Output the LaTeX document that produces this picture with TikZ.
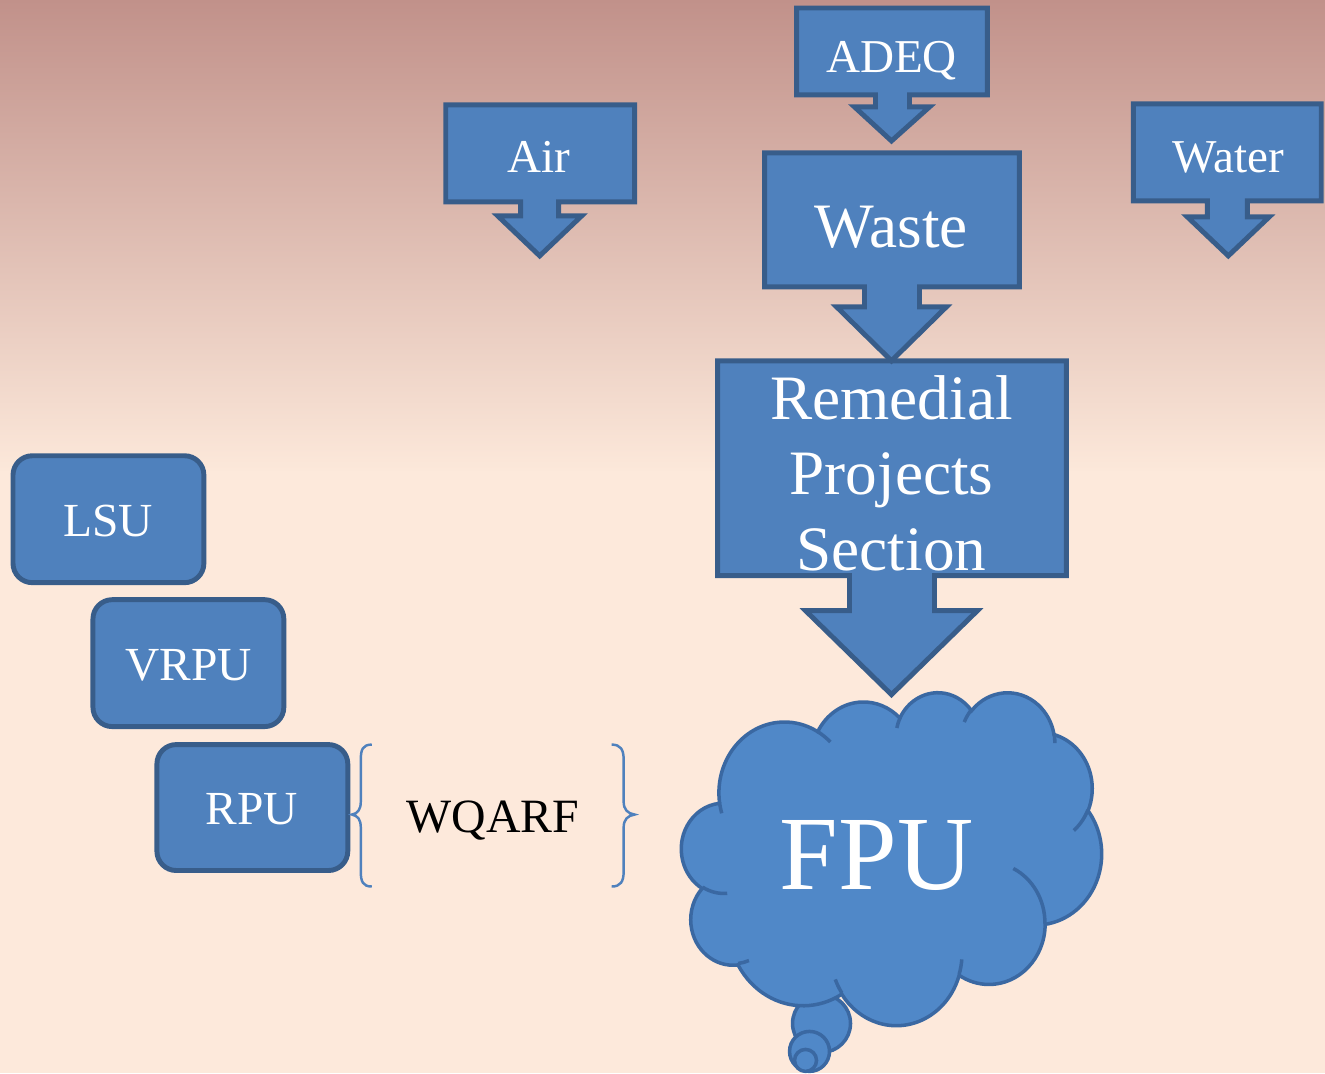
\documentclass[tikz,border=0pt]{standalone}
\usepackage{fontspec}
\setmainfont{Liberation Serif}
\definecolor{boxfill}{HTML}{4F81BD}
\definecolor{boxline}{HTML}{385D8A}
\definecolor{cloudfill}{HTML}{5088C8}
\definecolor{cloudline}{HTML}{3A68A2}
\definecolor{bracecol}{HTML}{4F81BD}
\definecolor{bgtop}{HTML}{C1918A}
\definecolor{bgbot}{HTML}{FCE8DA}
\definecolor{bglow}{HTML}{FDE9DB}
\tikzset{
  callout/.style={fill=boxfill, draw=boxline, line width=1.4pt, line join=miter},
  roundbox/.style={fill=boxfill, draw=boxline, line width=1.4pt, rounded corners=5.5pt},
  cloudshape/.style={fill=cloudfill, draw=cloudline, line width=1pt},
  cloudedge/.style={draw=cloudline, line width=1pt},
  bracestyle/.style={draw=bracecol, line width=0.7pt},
  wlabel/.style={text=white, anchor=base, inner sep=0pt},
  smalltxt/.style={font=\fontsize{13.4}{16}\selectfont},
}
\begin{document}
\begin{tikzpicture}[x=0.01cm, y=-0.01cm]
% background
\useasboundingbox (0cm,-10.73cm) rectangle (13.25cm,0cm);
\fill[bglow] (0cm,-10.73cm) rectangle (13.25cm,-4.6cm);
\shade[top color=bgtop, bottom color=bgbot] (0cm,-4.7cm) rectangle (13.25cm,0cm);

% callout arrows
\path[callout] (718,361) -- (1067,361) -- (1067,576) -- (935,576) -- (935,611) -- (978,611) -- (892,695) -- (806,611) -- (850,611) -- (850,576) -- (718,576) -- cycle;
\path[callout] (765,153) -- (1020,153) -- (1020,287) -- (920,287) -- (920,307) -- (947,307) -- (892,361) -- (837,307) -- (865,307) -- (865,287) -- (765,287) -- cycle;
\path[callout] (797,8) -- (988,8) -- (988,95) -- (910,95) -- (910,107) -- (930,107) -- (892,141) -- (855,107) -- (876,107) -- (876,95) -- (797,95) -- cycle;
\path[callout] (446,105) -- (635,105) -- (635,202) -- (559,202) -- (559,216) -- (582,216) -- (540,256) -- (498,216) -- (521,216) -- (521,202) -- (446,202) -- cycle;
\path[callout] (1134,104) -- (1322,104) -- (1322,201) -- (1248,201) -- (1248,217) -- (1270,217) -- (1229,256) -- (1188,217) -- (1208,217) -- (1208,201) -- (1134,201) -- cycle;

% rounded boxes
\path[roundbox] (13,456) rectangle (204,583);
\path[roundbox] (93,600) rectangle (284,727);
\path[roundbox] (157,745) rectangle (348,871);

% braces
\path[bracestyle] (372,745) .. controls (363,745) and (361,750) .. (361,760) -- (361,802)
  .. controls (361,810) and (358,814) .. (352,815) .. controls (358,816) and (361,820) .. (361,828)
  -- (361,872) .. controls (361,882) and (363,887) .. (372,887);
\path[bracestyle] (612,745) .. controls (621,745) and (624,750) .. (624,760) -- (624,802)
  .. controls (624,810) and (628,814) .. (635,815) .. controls (628,816) and (624,820) .. (624,828)
  -- (624,872) .. controls (624,882) and (621,887) .. (612,887);

% thought bubbles
\path[cloudshape] (822,1024) circle[radius=29];
\path[cloudshape] (810,1052) circle[radius=20];
\path[cloudshape] (806,1061) circle[radius=11];

% cloud
\begin{scope}[shift={(682,692)}, x=0.0097222cm, y=-0.0077083cm]
\foreach \n/\wr/\hr/\st/\sw in {
 1/67.53/91.90/-190.48748/123.78053,
 2/53.33/72.67/-144.10238/89.94523,
 3/43.65/59.45/-145.80792/99.72302,
 4/48.57/65.95/-130.98607/117.24173,
 5/53.33/72.73/-78.70888/109.02692,
 6/67.75/92.20/-46.26725/130.26900,
 7/57.85/78.67/0.62502/114.03333,
 8/67.52/92.15/22.45160/115.17255,
 9/77.20/105.43/66.24263/75.71102,
 10/43.60/59.18/-274.94208/146.73557,
 11/43.45/59.45/-246.82850/152.51885}{
  \pgfmathsetmacro\tsA{atan2(\wr*sin(\st),\hr*cos(\st))}
  \pgfmathsetmacro\teA{atan2(\wr*sin(\st+\sw),\hr*cos(\st+\sw))}
  \pgfmathsetmacro\dA{\teA-(\tsA)+360*((\teA)<(\tsA))}
  \expandafter\xdef\csname cloudS\n\endcsname{\tsA}
  \expandafter\xdef\csname cloudD\n\endcsname{\dA}
}
\path[cloudshape] (39.00,143.70)
  arc[x radius=67.53, y radius=91.90, start angle=\csname cloudS1\endcsname, delta angle=\csname cloudD1\endcsname]
  arc[x radius=53.33, y radius=72.67, start angle=\csname cloudS2\endcsname, delta angle=\csname cloudD2\endcsname]
  arc[x radius=43.65, y radius=59.45, start angle=\csname cloudS3\endcsname, delta angle=\csname cloudD3\endcsname]
  arc[x radius=48.57, y radius=65.95, start angle=\csname cloudS4\endcsname, delta angle=\csname cloudD4\endcsname]
  arc[x radius=53.33, y radius=72.73, start angle=\csname cloudS5\endcsname, delta angle=\csname cloudD5\endcsname]
  arc[x radius=67.75, y radius=92.20, start angle=\csname cloudS6\endcsname, delta angle=\csname cloudD6\endcsname]
  arc[x radius=57.85, y radius=78.67, start angle=\csname cloudS7\endcsname, delta angle=\csname cloudD7\endcsname]
  arc[x radius=67.52, y radius=92.15, start angle=\csname cloudS8\endcsname, delta angle=\csname cloudD8\endcsname]
  arc[x radius=77.20, y radius=105.43, start angle=\csname cloudS9\endcsname, delta angle=\csname cloudD9\endcsname]
  arc[x radius=43.60, y radius=59.18, start angle=\csname cloudS10\endcsname, delta angle=\csname cloudD10\endcsname]
  arc[x radius=43.45, y radius=59.45, start angle=\csname cloudS11\endcsname, delta angle=\csname cloudD11\endcsname]
  -- cycle;
\foreach \px/\py/\wr/\hr/\st/\sw in {
 46.93/261.77/43.45/59.45/86.7420/26.4295,
 69.28/348.99/43.60/59.18/73.61047/11.44747,
 164.78/390.90/67.52/92.15/137.62415/14.0811,
 288.27/347.51/67.52/92.15/6.45327/15.99835,
 341.29/229.54/57.85/78.67/-70.29235/70.91737,
 417.98/153.54/53.33/72.73/30.31803/27.7515,
 383.24/54.26/48.57/65.95/-13.74433/14.8589,
 290.78/39.52/48.57/65.95/-149.18145/18.19537,
 221.41/47.20/43.65/59.45/-163.49427/17.68635,
 140.00/51.92/67.53/91.90/-66.70695/12.31935,
 41.27/157.89/67.53/91.90/157.65435/11.85817}{
  \pgfmathsetmacro\tsA{atan2(\wr*sin(\st),\hr*cos(\st))}
  \pgfmathsetmacro\teA{atan2(\wr*sin(\st+\sw),\hr*cos(\st+\sw))}
  \pgfmathsetmacro\dA{\teA-(\tsA)+360*((\teA)<(\tsA))}
  \path[cloudedge] (\px,\py) arc[x radius=\wr, y radius=\hr, start angle=\tsA, delta angle=\dA];
}
\end{scope}

% labels
\node[wlabel, smalltxt] (air) at (539,173) {Air};
\node[wlabel, smalltxt] (adeq) at (892,73) {ADEQ};
\node[wlabel, smalltxt] (water) at (1229,173) {Water};
\node[wlabel, font=\fontsize{18}{21}\selectfont] (waste) at (892,248) {Waste};
\node[wlabel, font=\fontsize{18}{21}\selectfont] (rps1) at (892,420) {Remedial};
\node[wlabel, font=\fontsize{18}{21}\selectfont] (rps2) at (892,495) {Projects};
\node[wlabel, font=\fontsize{18}{21}\selectfont] (rps3) at (892,571) {Section};
\node[wlabel, font=\fontsize{30}{34}\selectfont] (fpu) at (877,890) {FPU};
\node[wlabel, font=\fontsize{13.5}{16}\selectfont] (lsu) at (108,537) {LSU};
\node[wlabel, font=\fontsize{13.5}{16}\selectfont] (vrpu) at (189,681) {VRPU};
\node[wlabel, font=\fontsize{13.5}{16}\selectfont] (rpu) at (252,825) {RPU};
\node[anchor=base, inner sep=0pt, text=black, font=\fontsize{13.6}{16}\selectfont] (wqarf) at (493,833) {WQARF};
\end{tikzpicture}
\end{document}
